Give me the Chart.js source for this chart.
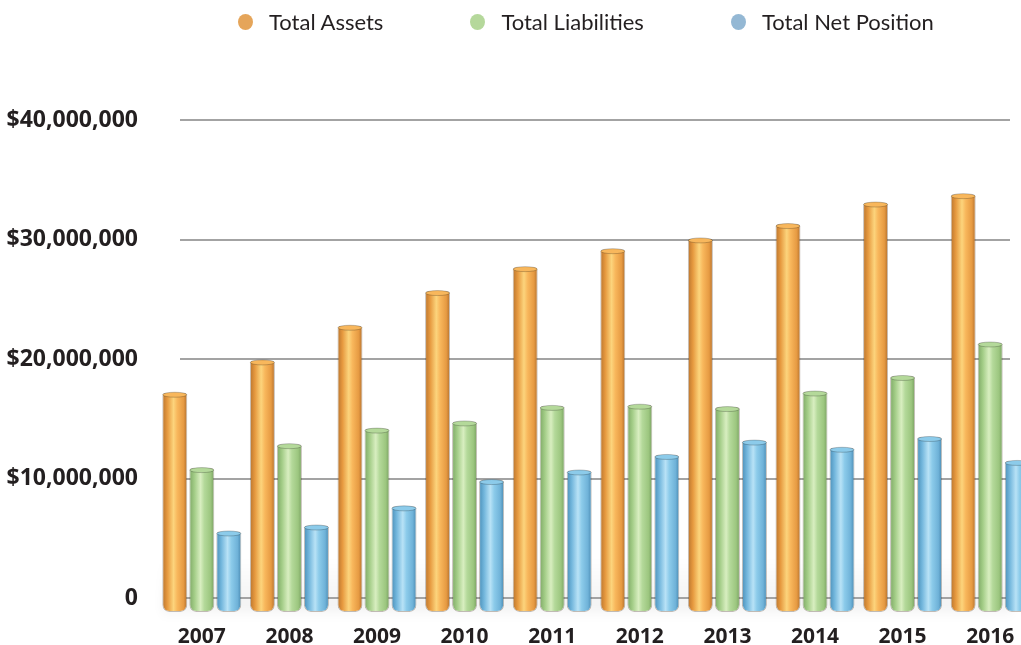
<!DOCTYPE html>
<html>
<head>
<meta charset="utf-8">
<script src="https://cdn.jsdelivr.net/npm/chart.js@4/dist/chart.umd.min.js"></script>
<style>
  html, body { margin: 0; padding: 0; background: #fff; overflow: hidden; }
  #wrap { position: relative; width: 1034px; height: 645px; }
  #legenda {
    position: absolute; top: 8px; left: 238px;
    display: flex; gap: 87px;
    font-family: Lato, sans-serif; font-size: 22px; color: #231f20;
  }
  #legenda div { display: flex; align-items: center; }
  #legenda span.dot { width: 15px; height: 16px; border-radius: 50%; margin-right: 16px; }
</style>
</head>
<body>
<div id="wrap">
  <canvas id="grafico"></canvas>
  <div id="legenda"></div>
</div>
<script>
const $ = id => document.getElementById(id);

const anos = ["2007", "2008", "2009", "2010", "2011", "2012", "2013", "2014", "2015", "2016"];
const ativos = [17.2, 19.9, 22.8, 25.7, 27.7, 29.2, 30.1, 31.3, 33.1, 33.8];
const passivos = [10.9, 12.9, 14.2, 14.8, 16.1, 16.2, 16.0, 17.3, 18.6, 21.4];
const liquido = [5.6, 6.1, 7.7, 9.9, 10.7, 12.0, 13.2, 12.6, 13.5, 11.5];
const ticksY = [0, 10000000, 20000000, 30000000, 40000000];

const series = [
    { label: "Total Assets", valores: ativos, legenda: "#e5a55a",
      stops: ["#b8742e", "#e6993f", "#fcd47c", "#f8b75c", "#e69a42", "#b06e2c"] },
    { label: "Total Liabilities", valores: passivos, legenda: "#b5d89b",
      stops: ["#7ea866", "#a2cc86", "#d8eec0", "#b4d99a", "#9cc67f", "#779f60"] },
    { label: "Total Net Position", valores: liquido, legenda: "#94b8d4",
      stops: ["#4b8fb8", "#72b6dc", "#b8e2f6", "#8ccbea", "#6fb2d8", "#4888b0"] }
];

const milhoes = v => v * 1000000;

// grid lines behind the bars + soft floor shadow
const fundo = {
    id: "fundo",
    beforeDatasetsDraw(chart) {
        const { ctx, chartArea } = chart;
        const y = chart.scales.y;
        const zero = y.getPixelForValue(0);
        ctx.save();
        const sombra = ctx.createLinearGradient(0, zero - 40, 0, chartArea.bottom + 6);
        sombra.addColorStop(0, "rgba(0,0,0,0)");
        sombra.addColorStop(0.8, "rgba(0,0,0,0.05)");
        sombra.addColorStop(1, "rgba(0,0,0,0)");
        ctx.fillStyle = sombra;
        ctx.filter = "blur(4px)";
        ctx.fillRect(chartArea.left + 4, zero - 40, 850, chartArea.bottom + 6 - (zero - 40));
        ctx.filter = "none";
        ctx.strokeStyle = "#a3a3a3";
        ctx.lineWidth = 2;
        y.ticks.forEach(t => {
            const py = Math.round(y.getPixelForValue(t.value));
            ctx.beginPath();
            ctx.moveTo(chartArea.left + 22, py);
            ctx.lineTo(1010, py);
            ctx.stroke();
        });
        ctx.restore();

        // cylinder shading across each bar
        chart.data.datasets.forEach((ds, i) => {
            const st = series[i].stops;
            chart.getDatasetMeta(i).data.forEach(el => {
                const x0 = el.x - el.width / 2;
                const g = ctx.createLinearGradient(x0, 0, x0 + el.width, 0);
                [0, 0.2, 0.45, 0.6, 0.85, 1].forEach((p, k) => g.addColorStop(p, st[k]));
                el.options.backgroundColor = g;
            });
        });
    },
    afterDatasetsDraw(chart) {
        const { ctx } = chart;
        chart.data.datasets.forEach((ds, i) => {
            const st = series[i].stops;
            chart.getDatasetMeta(i).data.forEach(el => {
                ctx.save();
                ctx.beginPath();
                ctx.ellipse(el.x, el.y + 2, el.width / 2 - 0.5, 2.5, 0, 0, Math.PI * 2);
                ctx.fillStyle = st[3];
                ctx.fill();
                ctx.strokeStyle = "rgba(0,0,0,0.22)";
                ctx.lineWidth = 1;
                ctx.stroke();
                ctx.restore();
            });
        });
    }
};

series.forEach(s => {
    const item = document.createElement("div");
    const dot = document.createElement("span");
    dot.className = "dot";
    dot.style.background = s.legenda;
    const txt = document.createElement("span");
    txt.textContent = s.label;
    item.append(dot, txt);
    $("legenda").appendChild(item);
});

new Chart($("grafico"), {
    type: "bar",
    data: {
        labels: anos,
        datasets: series.map(s => ({
            label: s.label,
            data: s.valores.map(milhoes),
            backgroundColor: () => s.stops[3],
            borderColor: "rgba(60,40,20,0.3)",
            borderWidth: 1,
            borderSkipped: false,
            borderRadius: { topLeft: 3, topRight: 3, bottomLeft: 7, bottomRight: 7 },
            base: -1130000,
            categoryPercentage: 0.925,
            barPercentage: 0.926
        }))
    },
    options: {
        responsive: true,
        maintainAspectRatio: false,
        animation: false,
        layout: { padding: { top: 120, left: 0, right: 0, bottom: 0 } },
        plugins: {
            legend: { display: false },
            tooltip: { enabled: false }
        },
        scales: {
            x: {
                grid: { display: false },
                border: { display: false },
                ticks: {
                    color: "#231f20",
                    padding: 4,
                    font: { family: "'Open Sans'", size: 21, weight: "bold" }
                },
                afterFit: s => { s.height = 33; }
            },
            y: {
                min: -1130000,
                max: 40000000,
                grid: { display: false },
                border: { display: false },
                afterBuildTicks: s => { s.ticks = ticksY.map(v => ({ value: v })); },
                afterFit: s => { s.width = 158; },
                ticks: {
                    color: "#231f20",
                    padding: 12,
                    font: { family: "'Open Sans'", size: 23, weight: "bold" },
                    callback: v => v === 0 ? "0" : "$" + v.toLocaleString("en-US")
                }
            }
        }
    },
    plugins: [fundo]
});
</script>
</body>
</html>
